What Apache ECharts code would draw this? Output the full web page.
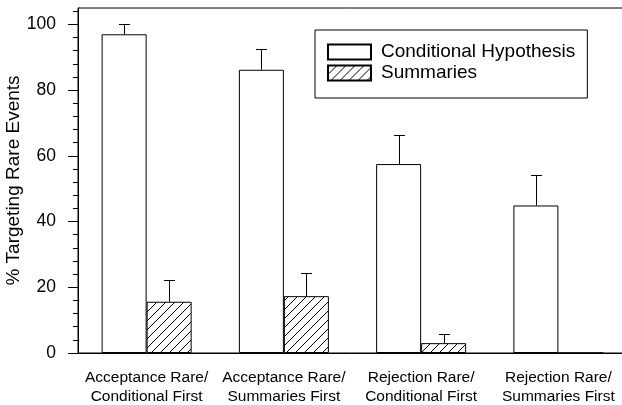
<!DOCTYPE html>
<html>
<head>
<meta charset="utf-8">
<script src="https://cdn.jsdelivr.net/npm/echarts@6/dist/echarts.min.js"></script>
<style>
html,body{margin:0;padding:0;background:#fff;}
#chart{width:622px;height:405px;}
</style>
</head>
<body>
<div id="chart"></div>
<script>
var categories = ['Acceptance Rare/\nConditional First', 'Acceptance Rare/\nSummaries First', 'Rejection Rare/\nConditional First', 'Rejection Rare/\nSummaries First'];
var seriesNames = ['Conditional Hypothesis', 'Summaries'];
var conditionalValues = [97.0, 86.2, 57.5, 44.9];
var conditionalUpper = [100.0, 92.6, 66.2, 54.2];
var summariesValues = [15.6, 17.3, 3.0, 0];
var summariesUpper = [22.1, 24.4, 5.9, null];
var yTickValues = [0, 20, 40, 60, 80, 100];
var yAxisTitle = '% Targeting Rare Events';

var FONT = "'Liberation Sans', Arial, Helvetica, sans-serif";
var BAR_W = 45;

function makeHatch() {
  var s = 9;
  var c = document.createElement('canvas');
  c.width = s; c.height = s;
  var ctx = c.getContext('2d');
  ctx.fillStyle = '#fff';
  ctx.fillRect(0, 0, s, s);
  ctx.strokeStyle = '#000';
  ctx.lineWidth = 1;
  ctx.beginPath();
  ctx.moveTo(-1, s + 1); ctx.lineTo(s + 1, -1);
  ctx.moveTo(-1, 1); ctx.lineTo(1, -1);
  ctx.moveTo(s - 1, s + 1); ctx.lineTo(s + 1, s - 1);
  ctx.stroke();
  return c;
}
var hatch = makeHatch();

function errData(vals, upper) {
  var out = [];
  for (var i = 0; i < vals.length; i++) {
    if (upper[i] != null) out.push([i, vals[i], upper[i]]);
  }
  return out;
}

function errRender(offset) {
  return function (params, api) {
    var p0 = api.coord([api.value(0), api.value(1)]);
    var p1 = api.coord([api.value(0), api.value(2)]);
    var x = Math.round(p0[0] + offset) + 0.5;
    var yb = p0[1];
    var yt = Math.round(p1[1]) + 0.5;
    return {
      type: 'group',
      children: [
        { type: 'line', shape: { x1: x, y1: yb, x2: x, y2: yt }, style: { stroke: '#000', lineWidth: 1 } },
        { type: 'line', shape: { x1: x - 5.5, y1: yt, x2: x + 5.5, y2: yt }, style: { stroke: '#000', lineWidth: 1 } }
      ]
    };
  };
}

var chart = echarts.init(document.getElementById('chart'), null, { renderer: 'canvas' });
chart.setOption({
  animation: false,
  backgroundColor: '#fff',
  textStyle: { fontFamily: FONT, color: '#000' },
  grid: { left: 78, top: 8, right: -5, bottom: 52, containLabel: false, outerBoundsMode: 'none', show: true, borderColor: '#000', borderWidth: 1, backgroundColor: 'transparent' },
  legend: {
    data: seriesNames,
    orient: 'vertical',
    left: 315,
    top: 30,
    itemWidth: 43,
    itemHeight: 15,
    itemGap: 1,
    padding: [12, 12, 15, 12],
    borderColor: '#000',
    borderWidth: 1,
    icon: 'rect',
    textStyle: { fontFamily: FONT, fontSize: 19, color: '#000', lineHeight: 20, padding: [0, 0, 0, 5] }
  },
  xAxis: {
    type: 'category',
    data: categories,
    boundaryGap: true,
    axisLine: { lineStyle: { color: '#000', width: 1 } },
    axisTick: { alignWithLabel: true, length: 5, lineStyle: { color: '#000' } },
    axisLabel: { color: '#000', fontFamily: FONT, fontSize: 15.5, lineHeight: 19, margin: 15, interval: 0, hideOverlap: false },
    splitLine: { show: false }
  },
  yAxis: {
    type: 'value',
    min: 0,
    max: 105,
    interval: 20,
    name: yAxisTitle,
    nameLocation: 'middle',
    nameGap: 55,
    nameMoveOverlap: false,
    nameTextStyle: { color: '#000', fontFamily: FONT, fontSize: 19 },
    axisLine: { show: true, lineStyle: { color: '#000', width: 1 } },
    axisTick: { show: true, length: 10, customValues: yTickValues, lineStyle: { color: '#000' } },
    minorTick: { show: true, splitNumber: 5, length: 5, lineStyle: { color: '#000' } },
    axisLabel: { color: '#000', fontFamily: FONT, fontSize: 17.5, margin: 22, customValues: yTickValues },
    splitLine: { show: false },
    minorSplitLine: { show: false }
  },
  series: [
    {
      name: seriesNames[0],
      type: 'bar',
      data: conditionalValues,
      barWidth: BAR_W,
      barGap: '0%',
      itemStyle: { color: '#fff', borderColor: '#000', borderWidth: 1 }
    },
    {
      name: seriesNames[1],
      type: 'bar',
      data: summariesValues,
      barWidth: BAR_W,
      barGap: '0%',
      itemStyle: { color: { image: hatch, repeat: 'repeat' }, borderColor: '#000', borderWidth: 1 }
    },
    {
      type: 'custom',
      renderItem: errRender(-BAR_W / 2),
      data: errData(conditionalValues, conditionalUpper),
      encode: { x: 0, y: [1, 2] },
      z: 3,
      silent: true
    },
    {
      type: 'custom',
      renderItem: errRender(BAR_W / 2),
      data: errData(summariesValues, summariesUpper),
      encode: { x: 0, y: [1, 2] },
      z: 3,
      silent: true
    }
  ]
});
</script>
</body>
</html>
